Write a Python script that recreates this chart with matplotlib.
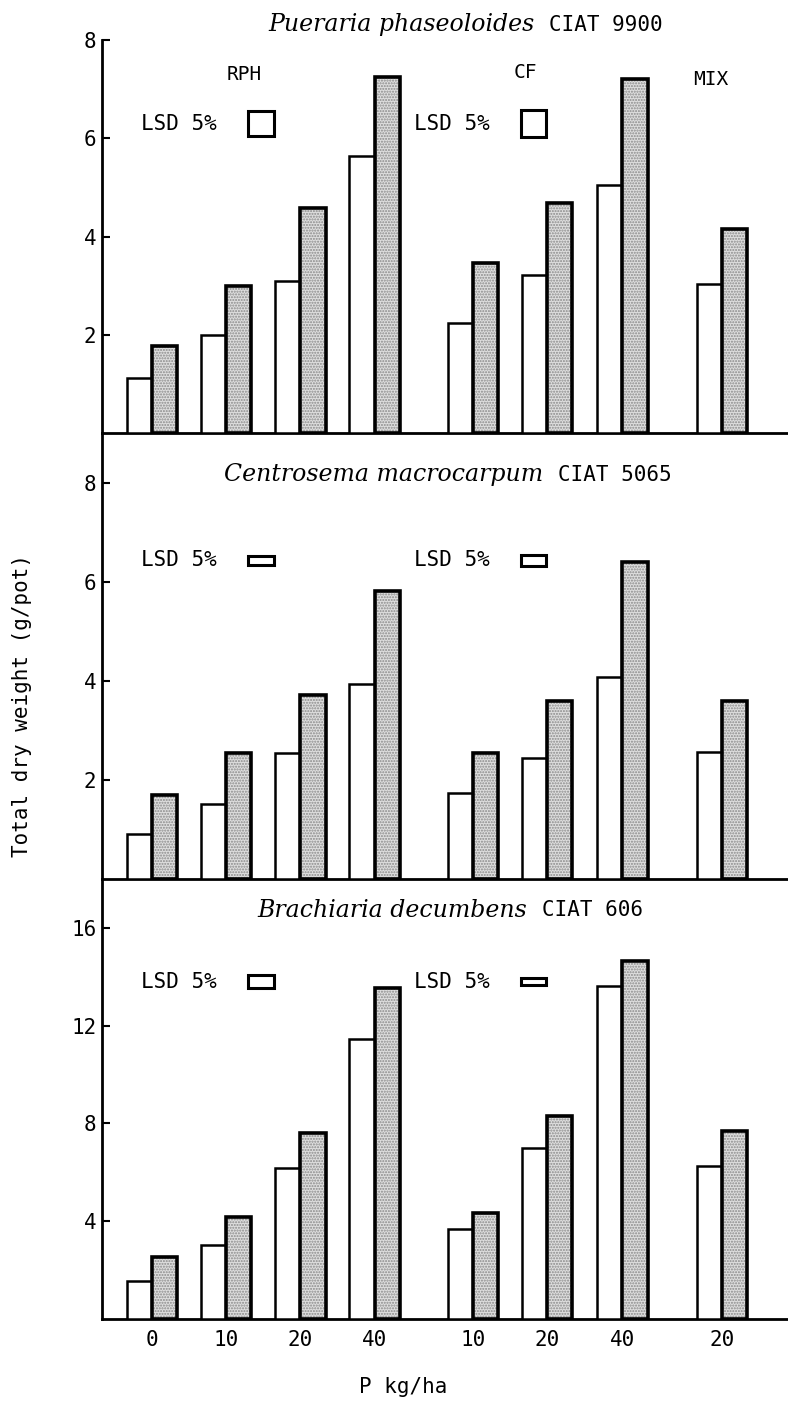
import matplotlib
matplotlib.use('Agg')
import matplotlib.pyplot as plt
import numpy as np
from matplotlib.patches import Rectangle

# P rates under each source, in the order drawn
sources = ['RPH', 'RPH', 'RPH', 'RPH', 'CF', 'CF', 'CF', 'MIX']
p_rates = ['0', '10', '20', '40', '10', '20', '40', '20']

# Pueraria phaseoloides CIAT 9900
pue_white = [1.12, 2.0, 3.1, 5.65, 2.24, 3.22, 5.04, 3.04]
pue_gray = [1.78, 3.0, 4.59, 7.24, 3.47, 4.69, 7.2, 4.16]
pue_lsd = [0.51, 0.55]

# Centrosema macrocarpum CIAT 5065
cen_white = [0.91, 1.52, 2.55, 3.94, 1.74, 2.44, 4.08, 2.57]
cen_gray = [1.70, 2.55, 3.72, 5.82, 2.55, 3.6, 6.4, 3.6]
cen_lsd = [0.18, 0.22]

# Brachiaria decumbens CIAT 606
bra_white = [1.55, 3.02, 6.16, 11.47, 3.67, 6.98, 13.63, 6.24]
bra_gray = [2.53, 4.16, 7.63, 13.55, 4.33, 8.29, 14.65, 7.71]
bra_lsd = [0.53, 0.30]

mono = 'DejaVu Sans Mono'
x = np.array([0, 1, 2, 3, 4.32, 5.32, 6.33, 7.67])
width = 0.34

fig = plt.figure(figsize=(7.88, 14.01), dpi=100)
left = 102 / 788
axw = 1 - left
ax1 = fig.add_axes([left, 0.6909, axw, 0.2805])
ax2 = fig.add_axes([left, 0.3726, axw, 0.3183])
ax3 = fig.add_axes([left, 0.0585, axw, 0.3141])

panels = [
    (ax1, pue_white, pue_gray, pue_lsd, 8, [2, 4, 6, 8],
     'Pueraria phaseoloides', 'CIAT 9900', 8.31, 5.25, 6.3),
    (ax2, cen_white, cen_gray, cen_lsd, 9, [2, 4, 6, 8],
     'Centrosema macrocarpum', 'CIAT 5065', 8.16, 5.36, 6.43),
    (ax3, bra_white, bra_gray, bra_lsd, 18, [4, 8, 12, 16],
     'Brachiaria decumbens', 'CIAT 606', 16.73, 5.15, 13.8),
]

for ax, white, gray, lsd, top, yt, sp, ciat, ty, tx, ly in panels:
    ax.bar(x - width / 2, white, width, color='white', edgecolor='black',
           linewidth=1.8, zorder=3)
    # stippled fill, then a black outline on top
    ax.bar(x + width / 2, gray, width, color='#dedede', edgecolor='#8a8a8a',
           hatch='......', linewidth=0, zorder=3)
    ax.bar(x + width / 2, gray, width, fill=False, edgecolor='black',
           linewidth=2.6, zorder=4)
    ax.set_xlim(-0.67, 8.56)
    ax.set_ylim(0, top)
    ax.set_yticks(yt)
    ax.set_yticklabels([str(v) for v in yt], fontfamily=mono, fontsize=15)
    ax.tick_params(axis='y', direction='in', length=6, width=1.5, pad=4)
    ax.set_xticks([])
    ax.patch.set_alpha(0)
    for s in ['top', 'right']:
        ax.spines[s].set_visible(False)
    ax.spines['left'].set_linewidth(2)
    ax.spines['bottom'].set_linewidth(2)

    ax.text(tx - 0.1, ty, sp, fontfamily='DejaVu Serif', style='italic',
            fontsize=17, ha='right', va='center', clip_on=False)
    ax.text(tx + 0.1, ty, ciat, fontfamily=mono, fontsize=15,
            ha='left', va='center', clip_on=False)

    # LSD 5% boxes for RPH and CF
    boxes = [(-0.14, 1.29, 0.35), (3.53, 4.97, 0.34)]
    for (lx, bx, bw), h in zip(boxes, lsd):
        ax.text(lx, ly, 'LSD 5%', fontfamily=mono, fontsize=15,
                ha='left', va='center')
        ax.add_patch(Rectangle((bx, ly - h / 2), bw, h, facecolor='white',
                               edgecolor='black', linewidth=2.2, zorder=4))

ax3.set_xticks(x)
ax3.set_xticklabels(p_rates, fontfamily=mono, fontsize=15)
ax3.tick_params(axis='x', length=0, pad=8)

ax1.text(1.24, 7.29, 'RPH', fontfamily=mono, fontsize=14, ha='center', va='center')
ax1.text(5.03, 7.33, 'CF', fontfamily=mono, fontsize=14, ha='center', va='center')
ax1.text(7.52, 7.19, 'MIX', fontfamily=mono, fontsize=14, ha='center', va='center')

fig.text(403 / 788, 1 - 1387 / 1401, 'P kg/ha', fontfamily=mono, fontsize=15,
         ha='center', va='center')
fig.text(22 / 788, 1 - 706 / 1401, 'Total dry weight (g/pot)', fontfamily=mono,
         fontsize=15, rotation=90, ha='center', va='center')

fig.savefig('out.png', dpi=100, facecolor='white')
